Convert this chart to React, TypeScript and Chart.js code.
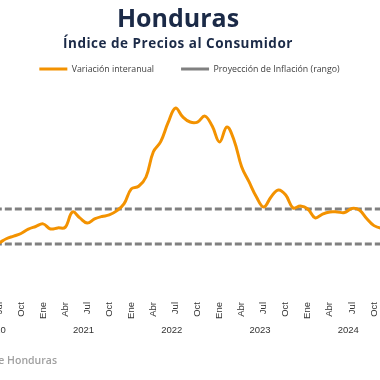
import React, { useEffect, useRef } from 'react';
import { Chart, registerables } from 'chart.js';

Chart.register(...registerables);

// ---- Data ----
const MONTHS = ['Ene', 'Feb', 'Mar', 'Abr', 'May', 'Jun', 'Jul', 'Ago', 'Sep', 'Oct', 'Nov', 'Dic'];
const YEARS = [2020, 2021, 2022, 2023, 2024];
const QUARTER_MONTHS = ['Ene', 'Abr', 'Jul', 'Oct'];

const INFL_2020 = [4.0, 3.8, 3.1, 2.6, 2.4, 2.9, 3.06, 3.3, 3.45, 3.6, 3.85, 4.0];
const INFL_2021 = [4.15, 3.86, 3.92, 3.95, 4.83, 4.49, 4.2, 4.43, 4.57, 4.66, 4.89, 5.29];
const INFL_2022 = [6.15, 6.3, 6.83, 8.27, 8.85, 9.93, 10.77, 10.26, 9.97, 9.97, 10.31, 9.74];
const INFL_2023 = [8.83, 9.69, 8.89, 7.42, 6.56, 5.7, 5.11, 5.69, 6.09, 5.8, 5.06, 5.17];
const INFL_2024 = [5.0, 4.49, 4.71, 4.83, 4.83, 4.8, 5.03, 4.94, 4.46, 4.05, 3.9, 3.88];

const TARGET_LOW = 3;
const TARGET_HIGH = 5;

const Y_MIN = 0;
const Y_MAX = 12.177;

const TITLE = 'Honduras';
const SUBTITLE = 'Índice de Precios al Consumidor';
const SOURCE = 'Fuente: Banco Central de Honduras';
const SERIES_LABEL = 'Variación interanual';
const TARGET_LABEL = 'Proyección de Inflación (rango)';

// ---- Styles ----
const ORANGE = '#F39200';
const GRAY = '#808080';
const NAVY = '#1b2a47';

const CANVAS_W = 500;
const CANVAS_H = 380;
const SHIFT_LEFT = 60;

const yearLabelsPlugin = {
  id: 'yearLabels',
  afterDraw(chart: any) {
    const xs = chart.scales.x;
    const ctx = chart.ctx;
    ctx.save();
    ctx.font = "9.5px 'Liberation Sans', Arial, sans-serif";
    ctx.fillStyle = '#333333';
    ctx.textAlign = 'center';
    ctx.textBaseline = 'middle';
    YEARS.forEach((yr, k) => {
      const a = xs.getPixelForValue(k * 12 + 5);
      const b = xs.getPixelForValue(k * 12 + 6);
      ctx.fillText(String(yr), (a + b) / 2, xs.top + 33.5);
    });
    ctx.restore();
  },
};

export default function App() {
  const canvasRef = useRef<HTMLCanvasElement | null>(null);

  useEffect(() => {
    const canvas = canvasRef.current;
    if (!canvas) return;
    const labels = YEARS.flatMap((y) => MONTHS.map((m) => `${m} ${y}`));
    const values = [...INFL_2020, ...INFL_2021, ...INFL_2022, ...INFL_2023, ...INFL_2024];

    const chart = new Chart(canvas, {
      type: 'line',
      data: {
        labels,
        datasets: [
          {
            label: SERIES_LABEL,
            data: values,
            borderColor: ORANGE,
            backgroundColor: ORANGE,
            borderWidth: 3,
            pointRadius: 0,
            tension: 0.4,
            fill: false,
          },
          {
            label: TARGET_LABEL,
            data: labels.map(() => TARGET_HIGH),
            borderColor: GRAY,
            backgroundColor: GRAY,
            borderWidth: 3,
            borderDash: [7, 3],
            pointRadius: 0,
            fill: false,
          },
          {
            label: 'Límite inferior',
            data: labels.map(() => TARGET_LOW),
            borderColor: GRAY,
            backgroundColor: GRAY,
            borderWidth: 3,
            borderDash: [7, 3],
            pointRadius: 0,
            fill: false,
          },
        ],
      },
      options: {
        animation: false,
        responsive: false,
        layout: { padding: { left: 14.81, right: 15.8, top: 37.6, bottom: 0 } },
        plugins: {
          legend: {
            display: true,
            position: 'top',
            labels: {
              usePointStyle: true,
              pointStyle: 'line',
              pointStyleWidth: 28,
              boxHeight: 9,
              padding: 27,
              color: '#404040',
              font: { family: "'Open Sans', sans-serif", size: 8.8 },
              filter: (item: any) => item.datasetIndex < 2,
            },
          },
          tooltip: { enabled: false },
          title: { display: false },
        },
        scales: {
          x: {
            grid: { display: false, drawTicks: false, tickLength: 0 },
            border: { display: false },
            ticks: {
              autoSkip: false,
              minRotation: 90,
              maxRotation: 90,
              padding: 5.5,
              color: '#333333',
              font: { family: "'Liberation Sans', Arial, sans-serif", size: 9.5 },
              callback: (_v: any, i: number) => {
                const m = labels[i].split(' ')[0];
                return QUARTER_MONTHS.includes(m) ? m : '';
              },
            },
            afterFit: (s: any) => {
              s.height = 83.5;
            },
          },
          y: {
            position: 'right',
            min: Y_MIN,
            max: Y_MAX,
            grid: { display: false, drawTicks: false },
            border: { display: false },
            ticks: { display: false },
            afterFit: (s: any) => {
              s.width = 35.5;
            },
          },
        },
      },
      plugins: [yearLabelsPlugin],
    } as any);

    return () => chart.destroy();
  }, []);

  return (
    <div
      style={{
        position: 'fixed',
        left: 0,
        top: 0,
        width: 380,
        height: 380,
        overflow: 'hidden',
        background: '#ffffff',
      }}
    >
      <div style={{ position: 'absolute', left: -SHIFT_LEFT, top: 0, width: CANVAS_W, height: CANVAS_H }}>
        <canvas ref={canvasRef} width={CANVAS_W} height={CANVAS_H} style={{ width: CANVAS_W, height: CANVAS_H, display: 'block' }} />
      </div>
      <div
        style={{
          position: 'absolute',
          left: 0,
          top: 4.8,
          width: 356,
          textAlign: 'center',
          fontFamily: "'Open Sans', sans-serif",
          fontWeight: 700,
          fontSize: 25,
          lineHeight: '25px',
          color: NAVY,
          whiteSpace: 'nowrap',
        }}
      >
        {TITLE}
      </div>
      <div
        style={{
          position: 'absolute',
          left: 0,
          top: 36.5,
          width: 356,
          textAlign: 'center',
          fontFamily: "'Open Sans', sans-serif",
          fontWeight: 700,
          fontSize: 13.5,
          lineHeight: '13.5px',
          letterSpacing: 0.5,
          color: NAVY,
          whiteSpace: 'nowrap',
        }}
      >
        {SUBTITLE}
      </div>
      <div
        style={{
          position: 'absolute',
          right: 323,
          top: 354.7,
          fontFamily: "'Open Sans', sans-serif",
          fontWeight: 600,
          fontSize: 10.5,
          lineHeight: '10.5px',
          color: '#a0a0a0',
          whiteSpace: 'nowrap',
        }}
      >
        {SOURCE}
      </div>
    </div>
  );
}
